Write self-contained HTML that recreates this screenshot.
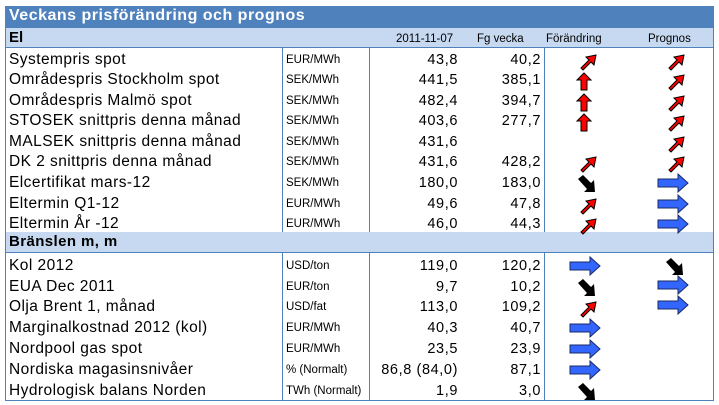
<!DOCTYPE html>
<html><head><meta charset="utf-8"><style>
body{margin:0;width:719px;height:403px;background:#fff;position:relative;overflow:hidden;font-family:"Liberation Sans",Arial,sans-serif;}
.a{position:absolute;white-space:nowrap;}
.lbl{font-size:15.5px;color:#000;left:9px;letter-spacing:0.45px;}
.unit{font-size:11.5px;left:286px;}
.v{font-size:14.5px;text-align:right;letter-spacing:0.6px;}
.hd{font-size:11.5px;}
</style></head><body>
<div class="a" style="left:5px;top:6px;width:708px;height:22px;background:#4f81bd;"></div>
<div class="a" style="left:9px;top:7px;font-size:16px;font-weight:bold;color:#fff;letter-spacing:0.5px;">Veckans prisförändring och prognos</div>
<div class="a" style="left:5px;top:28px;width:708px;height:19px;background:#c6d9f0;"></div>
<div class="a" style="left:9px;top:29px;font-size:15px;font-weight:bold;">El</div>
<div class="a hd" style="left:396px;top:33px;">2011-11-07</div>
<div class="a hd" style="left:477px;top:33px;">Fg vecka</div>
<div class="a hd" style="left:546px;top:33px;">Förändring</div>
<div class="a hd" style="left:648px;top:33px;">Prognos</div>
<div class="a" style="left:5px;top:232px;width:708px;height:20px;background:#c6d9f0;"></div>
<div class="a" style="left:9px;top:233px;font-size:15px;font-weight:bold;letter-spacing:0.4px;">Bränslen m, m</div>
<div id="rows"></div>
<svg class="a" style="left:0;top:0" width="719" height="403" id="lines">
<g stroke="#4f81bd" stroke-width="1" fill="none">
<rect x="5.5" y="6.5" width="708" height="394"/>
<line x1="282.5" y1="47" x2="282.5" y2="232"/><line x1="369.5" y1="47" x2="369.5" y2="232"/><line x1="544.5" y1="47" x2="544.5" y2="232"/>
<line x1="282.5" y1="252" x2="282.5" y2="400"/><line x1="369.5" y1="252" x2="369.5" y2="400"/><line x1="544.5" y1="252" x2="544.5" y2="400"/>
<line x1="5" y1="47.5" x2="713" y2="47.5"/><line x1="5" y1="252.5" x2="713" y2="252.5"/>
</g></svg>
<script>
const labels=["Systempris spot","Områdespris Stockholm spot","Områdespris Malmö spot","STOSEK snittpris denna  månad","MALSEK snittpris denna månad","DK 2 snittpris denna månad","Elcertifikat mars-12","Eltermin Q1-12","Eltermin År -12","Kol 2012","EUA Dec 2011","Olja Brent 1, månad","Marginalkostnad 2012 (kol)","Nordpool gas spot","Nordiska magasinsnivåer","Hydrologisk balans Norden"];
const units=["EUR/MWh","SEK/MWh","SEK/MWh","SEK/MWh","SEK/MWh","SEK/MWh","SEK/MWh","EUR/MWh","EUR/MWh","USD/ton","EUR/ton","USD/fat","EUR/MWh","EUR/MWh","% (Normalt)","TWh (Normalt)"];
const cur=["43,8","441,5","482,4","403,6","431,6","431,6","180,0","49,6","46,0","119,0","9,7","113,0","40,3","23,5","86,8 (84,0)","1,9"];
const prev=["40,2","385,1","394,7","277,7","","428,2","183,0","47,8","44,3","120,2","10,2","109,2","40,7","23,9","87,1","3,0"];
const change=["ur","u","u","u","","ur","dr","ur","ur","r","dr","ur","r","r","r","dr"];
const prog=["ur","ur","ur","ur","ur","ur","r","r","r","dr","r","r","","","",""];
const tops=[51,71,92,112,133,153,174,195,215,257,278,298,319,340,361,382];
const shapes={
 r:'<polygon points="2,6 22,6 22,1 32,10 22,19 22,14 2,14" fill="#3366ff" stroke="#1a2a66" stroke-width="1"/>',
 ur:'<polygon points="9,18 17,10 14,7 24,5 22,15 19,12 11,20" fill="#ff0000" stroke="#000" stroke-width="1"/>',
 u:'<polygon points="12,3 19,10 15,10 15,20 9,20 9,10 5,10" fill="#ff0000" stroke="#000" stroke-width="1"/>',
 dr:'<polygon points="6,6 11,2 19,10 22,7 23,19 12,19 15,16" fill="#000"/>'
};
const root=document.getElementById('rows');
function add(cls,txt,style,name){const d=document.createElement('div');d.className='a '+cls;d.textContent=txt;d.style.cssText=style;


root.appendChild(d);}
function arrow(t,x,y,name){if(!t)return;const s=document.createElementNS('http://www.w3.org/2000/svg','svg');s.setAttribute('width','34');s.setAttribute('height','24');s.style.cssText='position:absolute;left:'+x+'px;top:'+y+'px';s.innerHTML=shapes[t];


root.appendChild(s);}
labels.forEach((l,i)=>{const t=tops[i];
add('lbl',l,'top:'+t+'px;','row-label');
add('unit',units[i],'top:'+(t+3)+'px;','row-unit');
add('v',cur[i],'top:'+(t+1)+'px;right:'+(719-458)+'px;','value-current');
add('v',prev[i],'top:'+(t+1)+'px;right:'+(719-541)+'px;','value-previous');
arrow(change[i],change[i]=='r'?568:572,t-1,'change-arrow');
arrow(prog[i],prog[i]=='r'?656:660,t-1+(i>=10?-2:0),'prognos-arrow');
});
</script>
</body></html>
